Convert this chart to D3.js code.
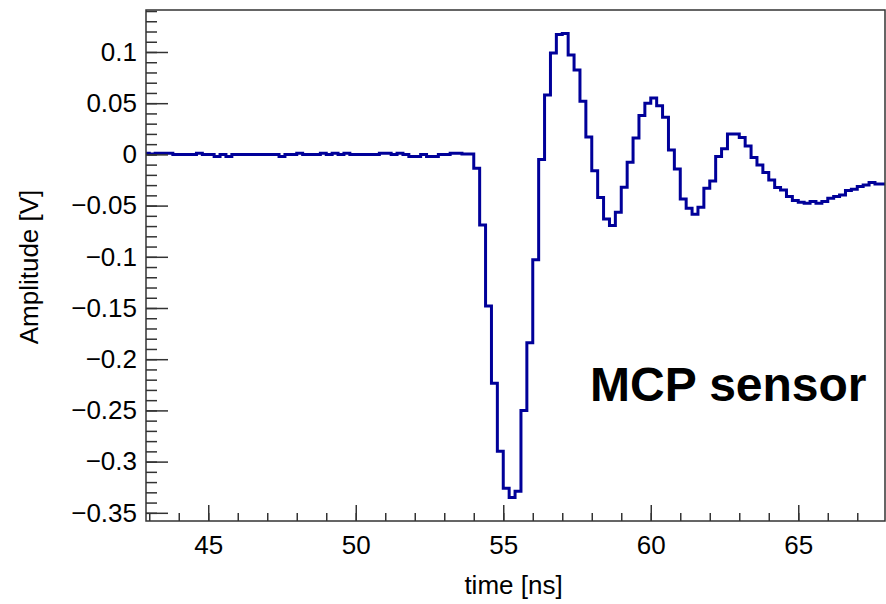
<!DOCTYPE html>
<html>
<head>
<meta charset="utf-8">
<script src="https://cdn.jsdelivr.net/npm/d3@7"></script>
<style>
  body { margin: 0; background: #fff; }
  text { font-family: "Liberation Sans", Arial, Helvetica, sans-serif; }
</style>
</head>
<body>
<script>
// histogram binning: first bin low edge and width (ns)
var binLow = 42.8,
	binWidth = 0.2;

// amplitude per bin [V]
var amplitude = [
	0.001, 0.0005, 0.001, 0.001, 0.001, 0, 0, 0, 0, 0.001,
	0, 0, -0.002, 0, -0.002, 0, 0, 0, 0, 0,
	0, 0, 0, -0.002, 0, 0, 0.001, 0, 0, 0,
	0.001, 0, 0.001, 0, 0.001, 0, 0, 0, 0, 0,
	0.001, 0.001, 0, 0.001, 0, -0.002, -0.002, 0, -0.002, -0.002,
	0, 0, 0.001, 0.001, 0.0005, 0.0005, -0.0135, -0.069, -0.148, -0.2235,
	-0.290, -0.326, -0.335, -0.329, -0.250, -0.184, -0.103, -0.005, 0.058, 0.099,
	0.117, 0.118, 0.097, 0.0825, 0.052, 0.017, -0.016, -0.042, -0.063, -0.0695,
	-0.0565, -0.032, -0.0076, 0.016, 0.038, 0.050, 0.055, 0.0475, 0.0363, 0.0044,
	-0.0142, -0.0435, -0.0526, -0.0584, -0.0516, -0.033, -0.026, -0.002, 0.0054, 0.020,
	0.020, 0.0164, 0.0083, -0.0031, -0.0103, -0.0178, -0.0249, -0.0324, -0.0347, -0.0412,
	-0.0451, -0.0467, -0.0477, -0.0461, -0.0477, -0.0461, -0.0428, -0.0412, -0.0396, -0.0353,
	-0.034, -0.0314, -0.0298, -0.0275, -0.0288, -0.0288
];

// tick labels
var xTicks = [45, 50, 55, 60, 65];
var yTicks = [0.1, 0.05, 0, -0.05, -0.1, -0.15, -0.2, -0.25, -0.3, -0.35];

var width = 886,
	height = 604;

// frame of the plot area (not "top": that name is taken by window.top)
var frameL = 146, frameR = 885, frameT = 10, frameB = 521;
var labelSize = 26;

var svg = d3.select("body").append("svg")
	.attr("width", width)
	.attr("height", height);

var x = d3.scaleLinear().domain([42.89, 67.94]).range([frameL, frameR]);
var y = d3.scaleLinear().domain([-0.358, 0.141]).range([frameB, frameT]);

// clip so the first bin doesn't stick out of the frame
svg.append("clipPath").attr("id", "frame")
	.append("rect")
	.attr("x", frameL).attr("y", frameT)
	.attr("width", frameR - frameL).attr("height", frameB - frameT);

// step points: each bin's low edge, plus the last bin's high edge
var pts = amplitude.map(function(v, i){ return [binLow + i * binWidth, v]; });
pts.push([binLow + amplitude.length * binWidth, amplitude[amplitude.length - 1]]);

var line = d3.line()
	.x(function(d){ return x(d[0]); })
	.y(function(d){ return y(d[1]); })
	.curve(d3.curveStepAfter);

svg.append("path")
	.datum(pts)
	.attr("clip-path", "url(#frame)")
	.attr("fill", "none")
	.attr("stroke", "#000099")
	.attr("stroke-width", 3)
	.attr("stroke-linejoin", "miter")
	.attr("d", line);

// minor ticks
var yMinor = d3.range(-35, 15).map(function(d){ return d / 100; });
var xMinor = d3.range(43, 68);

svg.append("g")
	.attr("transform", "translate(" + frameL + ",0)")
	.call(d3.axisLeft(y).tickValues(yMinor).tickSizeInner(-11).tickSizeOuter(0).tickFormat(""))
	.call(function(g){ g.select(".domain").remove(); });

svg.append("g")
	.attr("transform", "translate(0," + frameB + ")")
	.call(d3.axisBottom(x).tickValues(xMinor).tickSizeInner(-8).tickSizeOuter(0).tickFormat(""))
	.call(function(g){ g.select(".domain").remove(); });

// major ticks with labels
var fmt = d3.format("~g");

var yAxis = svg.append("g")
	.attr("transform", "translate(" + frameL + ",0)")
	.call(d3.axisLeft(y).tickValues(yTicks).tickSizeInner(-22).tickSizeOuter(0).tickPadding(9).tickFormat(fmt));
yAxis.select(".domain").remove();

var xAxis = svg.append("g")
	.attr("transform", "translate(0," + frameB + ")")
	.call(d3.axisBottom(x).tickValues(xTicks).tickSizeInner(-16).tickSizeOuter(0).tickPadding(15).tickFormat(fmt));
xAxis.select(".domain").remove();

svg.selectAll(".tick line").attr("stroke", "#333").attr("stroke-width", 1.5);
svg.selectAll(".tick text")
	.attr("font-size", labelSize)
	.attr("font-family", "'Liberation Sans', Arial, Helvetica, sans-serif")
	.attr("fill", "#000");

// frame box
svg.append("rect")
	.attr("x", frameL).attr("y", frameT)
	.attr("width", frameR - frameL).attr("height", frameB - frameT)
	.attr("fill", "none")
	.attr("stroke", "#333")
	.attr("stroke-width", 1.5);

// axis titles
svg.append("text")
	.attr("x", (frameL + frameR) / 2 - 2)
	.attr("y", 594)
	.attr("text-anchor", "middle")
	.attr("font-size", labelSize)
	.text("time [ns]");

svg.append("text")
	.attr("transform", "translate(38,267) rotate(-90)")
	.attr("text-anchor", "middle")
	.attr("font-size", labelSize)
	.text("Amplitude [V]");

// label inside the pad
svg.append("text")
	.attr("x", 590)
	.attr("y", 401)
	.attr("font-size", 48)
	.attr("font-weight", "bold")
	.text("MCP sensor");
</script>
</body>
</html>
